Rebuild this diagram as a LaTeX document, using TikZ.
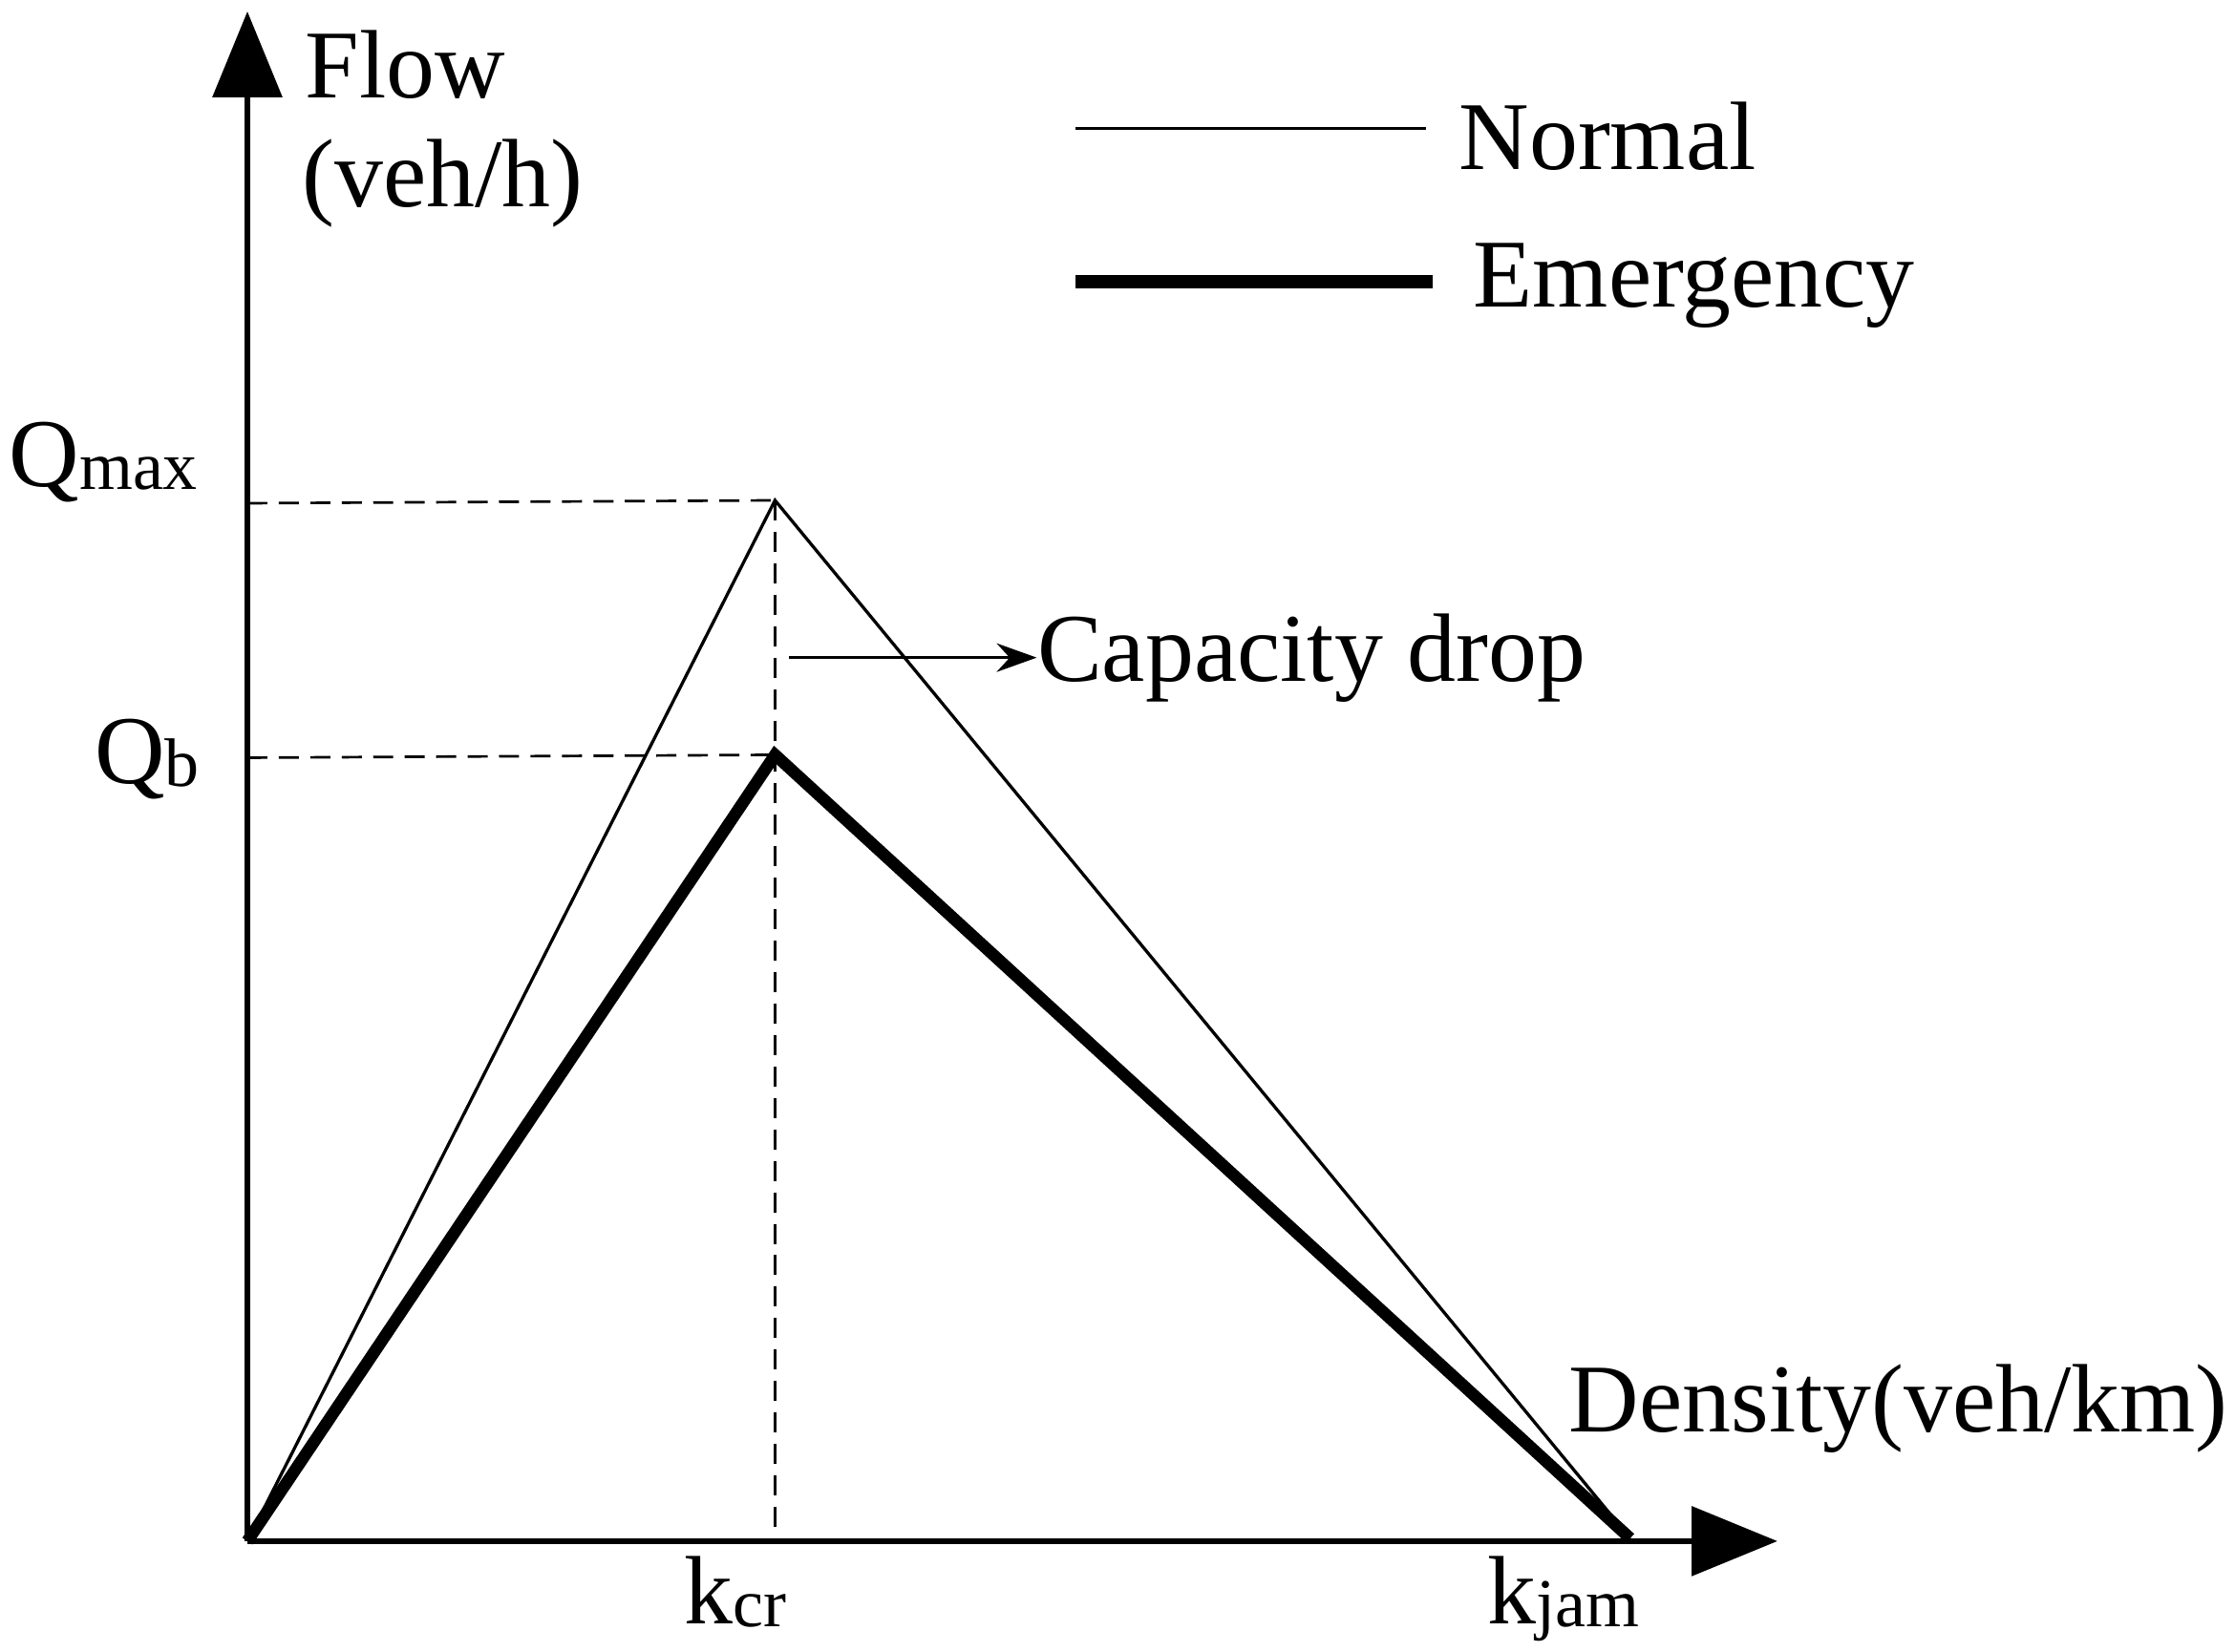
\documentclass[tikz,border=0pt]{standalone}
\usepackage{fontspec}
\setmainfont{Liberation Serif}
\usetikzlibrary{arrows.meta}
\begin{document}
\begin{tikzpicture}[x=0.5pt,y=-0.5pt,
  axis/.style={line width=2.2pt,-{Triangle[width=24pt,length=30pt]}},
  thinln/.style={line width=1.1pt},
  thickln/.style={line width=4.2pt,line join=miter},
  dashln/.style={line width=0.9pt,dash pattern=on 7pt off 4pt},
  lbl/.style={inner sep=0pt,font=\fontsize{34}{38}\selectfont}]
\useasboundingbox (0,0) rectangle (1563,1155);
\coordinate (O) at (173,1078);
\coordinate (Ytop) at (173,8);
\coordinate (Xend) at (1243,1078);
\coordinate (Pn) at (542,350);
\coordinate (Pe) at (542,528);
\coordinate (Kj) at (1140,1076);
\coordinate (Kc) at (542,1078);
\coordinate (Qm) at (173,352);
\coordinate (Qbb) at (173,530);
\draw[axis] (O) -- (Ytop);
\draw[axis] (O) -- (Xend);
\draw[dashln] (Qm) -- (Pn);
\draw[dashln] (Qbb) -- (Pe);
\draw[dashln] (Pn) -- (Kc);
\draw[thinln] (O) -- (Pn) -- (Kj);
\draw[thickln] (O) -- (Pe) -- (Kj);
\coordinate (A1) at (552,460);
\node[lbl,anchor=west] (cd) at (725,460) {Capacity drop};
\draw[thinln,-{Stealth[length=14pt,width=10pt]}] (A1) -- (cd.west);
\coordinate (L1a) at (752,90); \coordinate (L1b) at (997,90);
\coordinate (L2a) at (752,197); \coordinate (L2b) at (1002,197);
\draw[thinln] (L1a) -- (L1b);
\draw[line width=4.5pt] (L2a) -- (L2b);
\node[lbl,anchor=west] (nrm) at (1020,95) {Normal};
\node[lbl,anchor=west] (emg) at (1030,200) {Emergency};
\node[lbl,anchor=west] (fl) at (213,45) {Flow};
\node[lbl,anchor=west] (vh) at (211,128) {(veh/h)};
\node[lbl,anchor=west] (den) at (1097,985) {Density(veh/km)};
\node[lbl,anchor=base west] (qm) at (6,340) {Q\raisebox{-1pt}{\fontsize{24}{26}\selectfont max}};
\node[lbl,anchor=base west] (qb) at (66,548) {Q\raisebox{-1pt}{\fontsize{24}{26}\selectfont b}};
\node[lbl,anchor=base west] (kc) at (478,1136) {k\raisebox{-1pt}{\fontsize{24}{26}\selectfont cr}};
\node[lbl,anchor=base west] (kjm) at (1040,1136) {k\raisebox{-1pt}{\fontsize{24}{26}\selectfont jam}};
\end{tikzpicture}
\end{document}
